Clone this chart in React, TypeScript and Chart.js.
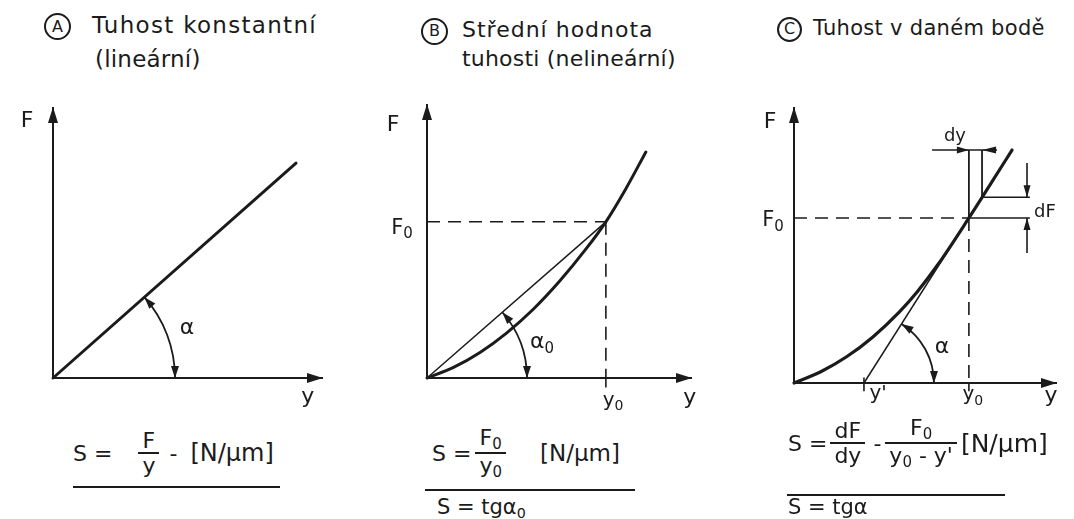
import React, { useEffect, useRef } from "react";
import { Chart, registerables } from "chart.js";

Chart.register(...registerables);

const INK = "#1b1b1b";
const FONT = '"DejaVu Sans", "Liberation Sans", sans-serif';

// ---- Panel A: constant (linear) stiffness ----
const linearY = [0, 9.0];
const linearF = [0, 7.93];

// ---- Panel B: mean stiffness (nonlinear) ----
const meanCurveY = [0, 1, 2, 3, 4, 5, 6, 6.75, 7.5, 8.26];
const meanCurveF = [0, 0.385, 0.93, 1.64, 2.5, 3.53, 4.71, 5.7, 6.9, 8.25];
const y0B = 6.75;
const F0B = 5.7;

// ---- Panel C: stiffness at a point ----
const pointCurveY = [0, 1, 2, 3, 4, 4.68, 5.5, 6.65, 7.5, 8.29];
const pointCurveF = [0, 0.4, 0.95, 1.67, 2.57, 3.3, 4.33, 5.98, 7.25, 8.44];
const y0C = 6.65;
const F0C = 5.98;
const yPrimeC = 2.66;
const dyC = 0.5;
const dFC = 0.75;
const topC = 8.44;
const dyLineY = [5.25, 7.72];
const dFLineEnd = 8.97;
const dFArrowX = 8.86;
const dFArrowEnds = [7.97, 4.71];

type P = [number, number];

const pts = (xs: number[], ys: number[]) => xs.map((v, i) => ({ x: v, y: ys[i] }));
const seg = (a: P[], width = 1.6, dash: number[] = []) => ({
  data: a.map(([x, y]) => ({ x, y })),
  showLine: true,
  borderColor: INK,
  borderWidth: width,
  borderDash: dash,
  pointRadius: 0,
  clip: false,
  borderCapStyle: "butt",
});
const curve = (xs: number[], ys: number[], width: number) => ({
  data: pts(xs, ys),
  showLine: true,
  borderColor: INK,
  borderWidth: width,
  pointRadius: 0,
  clip: false,
  cubicInterpolationMode: "monotone",
  borderCapStyle: "round",
});

function head(ctx: CanvasRenderingContext2D, x: number, y: number, ang: number, len: number, w: number) {
  const bx = x - len * Math.cos(ang);
  const by = y - len * Math.sin(ang);
  const nx = -Math.sin(ang) * w;
  const ny = Math.cos(ang) * w;
  ctx.beginPath();
  ctx.moveTo(x, y);
  ctx.lineTo(bx + nx, by + ny);
  ctx.lineTo(bx - nx, by - ny);
  ctx.closePath();
  ctx.fill();
}

const diagramPlugin = {
  id: "diagram",
  afterDatasetsDraw(chart: any, _args: any, opts: any) {
    const { ctx } = chart;
    const sx = chart.scales.x;
    const sy = chart.scales.y;
    const px = (p: P): P => [sx.getPixelForValue(p[0]), sy.getPixelForValue(p[1])];
    ctx.save();
    ctx.strokeStyle = INK;
    ctx.fillStyle = INK;
    for (const a of opts.arrows || []) {
      const [x0, y0] = px(a.from);
      const [x1, y1] = px(a.to);
      head(ctx, x1, y1, Math.atan2(y1 - y0, x1 - x0), a.len ?? 16, a.w ?? 5);
    }
    for (const arc of opts.arcs || []) {
      const [cx, cy] = px(arc.center);
      const [tx, ty] = px(arc.toward);
      const a0 = Math.atan2(ty - cy, tx - cx);
      const r = arc.r;
      ctx.lineWidth = 1.8;
      ctx.beginPath();
      ctx.arc(cx, cy, r, a0, 0, false);
      ctx.stroke();
      head(ctx, cx + r, cy, Math.PI / 2, 12, 4);
      head(ctx, cx + r * Math.cos(a0), cy + r * Math.sin(a0), Math.atan2(-Math.cos(a0), Math.sin(a0)), 12, 4);
    }
    for (const l of opts.labels || []) {
      const [lx, ly] = px(l.at);
      const size = l.size ?? 20;
      ctx.font = `${size}px ${FONT}`;
      ctx.textBaseline = "middle";
      ctx.textAlign = "left";
      const w = ctx.measureText(l.t).width;
      let ws = 0;
      const subSize = Math.round(size * 0.7);
      if (l.sub) {
        ctx.font = `${subSize}px ${FONT}`;
        ws = ctx.measureText(l.sub).width;
      }
      const startX = lx - (w + ws) / 2;
      ctx.font = `${size}px ${FONT}`;
      ctx.fillText(l.t, startX, ly);
      if (l.sub) {
        ctx.font = `${subSize}px ${FONT}`;
        ctx.fillText(l.sub, startX + w, ly + size * 0.3);
      }
    }
    ctx.restore();
  },
};

const axes = [seg([[0, 0], [10, 0]], 2), seg([[0, 0], [0, 10]], 2)];
const axisArrows = [
  { from: [0, 0], to: [10, 0] },
  { from: [0, 0], to: [0, 10] },
];

const configA = {
  datasets: [...axes, curve(linearY, linearF, 3)],
  padding: { left: 53, right: 35, top: 17, bottom: 42 },
  diagram: {
    arrows: axisArrows,
    arcs: [{ center: [0, 0], toward: [linearY[1], linearF[1]], r: 122 }],
    labels: [
      { t: "F", at: [-0.96, 9.48], size: 22 },
      { t: "y", at: [9.44, -0.7], size: 22 },
      { t: "α", at: [4.96, 1.85], size: 22 },
    ],
  },
};

const configB = {
  datasets: [
    ...axes,
    curve(meanCurveY, meanCurveF, 3),
    seg([[0, 0], [y0B, F0B]], 1.5),
    seg([[0, F0B], [y0B, F0B]], 1.6, [13, 8]),
    seg([[y0B, F0B], [y0B, 0]], 1.6, [13, 8]),
    seg([[y0B, 0], [y0B, -0.35]], 1.6),
  ],
  padding: { left: 69, right: 24, top: 14, bottom: 42 },
  diagram: {
    arrows: axisArrows,
    arcs: [{ center: [0, 0], toward: [y0B, F0B], r: 100 }],
    labels: [
      { t: "F", at: [-1.28, 9.23], size: 22 },
      { t: "F", sub: "0", at: [-0.94, 5.47], size: 21 },
      { t: "y", sub: "0", at: [7.02, -0.82], size: 20 },
      { t: "y", at: [9.92, -0.73], size: 22 },
      { t: "α", sub: "0", at: [4.34, 1.31], size: 22 },
    ],
  },
};

const configC = {
  datasets: [
    ...axes,
    curve(pointCurveY, pointCurveF, 3.2),
    seg([[yPrimeC, 0], [pointCurveY[pointCurveY.length - 1], pointCurveF[pointCurveF.length - 1]]], 1.5),
    seg([[0, F0C], [y0C, F0C]], 1.6, [13, 8]),
    seg([[y0C, F0C], [y0C, 0]], 1.6, [13, 8]),
    seg([[y0C, F0C], [y0C, topC]], 1.8),
    seg([[y0C + dyC, F0C + dFC], [y0C + dyC, topC]], 1.8),
    seg([[dyLineY[0], topC], [dyLineY[1], topC]], 1.6),
    seg([[y0C + dyC, F0C + dFC], [dFLineEnd, F0C + dFC]], 1.6),
    seg([[y0C, F0C], [dFLineEnd, F0C]], 1.6),
    seg([[dFArrowX, dFArrowEnds[0]], [dFArrowX, F0C + dFC]], 1.6),
    seg([[dFArrowX, dFArrowEnds[1]], [dFArrowX, F0C]], 1.6),
    seg([[yPrimeC, 0.2], [yPrimeC, -0.3]], 1.6),
    seg([[y0C, 0], [y0C, -0.3]], 1.6),
  ],
  padding: { left: 78, right: 17, top: 17, bottom: 37 },
  diagram: {
    arrows: [
      ...axisArrows,
      { from: [dyLineY[0], topC], to: [y0C, topC], len: 12, w: 3.5 },
      { from: [dyLineY[1], topC], to: [y0C + dyC, topC], len: 14, w: 3.5 },
      { from: [dFArrowX, dFArrowEnds[0]], to: [dFArrowX, F0C + dFC], len: 12, w: 3.5 },
      { from: [dFArrowX, dFArrowEnds[1]], to: [dFArrowX, F0C], len: 12, w: 3.5 },
    ],
    arcs: [{ center: [yPrimeC, 0], toward: [y0C, F0C], r: 70 }],
    labels: [
      { t: "F", at: [-0.91, 9.46], size: 22 },
      { t: "F", sub: "0", at: [-0.8, 5.87], size: 21 },
      { t: "dy", at: [6.12, 8.95], size: 18 },
      { t: "dF", at: [9.54, 6.2], size: 18 },
      { t: "α", at: [5.63, 1.3], size: 22 },
      { t: "y'", at: [3.2, -0.38], size: 20 },
      { t: "y", sub: "0", at: [6.8, -0.43], size: 20 },
      { t: "y", at: [9.77, -0.47], size: 22 },
    ],
  },
};

function Panel({ cfg, left }: { cfg: any; left: number }) {
  const ref = useRef<HTMLCanvasElement>(null);
  useEffect(() => {
    if (!ref.current) return;
    const chart = new Chart(ref.current, {
      type: "scatter",
      data: { datasets: cfg.datasets },
      options: {
        responsive: false,
        animation: false,
        devicePixelRatio: 1,
        events: [],
        layout: { padding: cfg.padding },
        scales: {
          x: { type: "linear", min: 0, max: 10, display: false },
          y: { type: "linear", min: 0, max: 10, display: false },
        },
        plugins: { legend: { display: false }, tooltip: { enabled: false }, diagram: cfg.diagram } as any,
      },
      plugins: [diagramPlugin as any],
    } as any);
    return () => chart.destroy();
  }, [cfg]);
  return (
    <canvas
      ref={ref}
      width={358}
      height={330}
      style={{ position: "absolute", left, top: 90, width: 358, height: 330 }}
    />
  );
}

const Sub = ({ c }: { c: string }) => (
  <span style={{ fontSize: "0.68em", position: "relative", top: "0.3em" }}>{c}</span>
);

const Circled = ({ c, d, gap }: { c: string; d: number; gap: number }) => (
  <span
    style={{
      display: "inline-flex",
      width: d,
      height: d,
      boxSizing: "border-box",
      border: `2px solid ${INK}`,
      borderRadius: "50%",
      alignItems: "center",
      justifyContent: "center",
      fontSize: 16,
      lineHeight: 1,
      letterSpacing: 0,
      marginRight: gap,
      verticalAlign: "middle",
    }}
  >
    {c}
  </span>
);

const Frac = ({ n, d, ml = 0 }: { n: React.ReactNode; d: React.ReactNode; ml?: number }) => (
  <span style={{ display: "inline-flex", flexDirection: "column", alignItems: "center", marginLeft: ml }}>
    <span style={{ lineHeight: "23px", padding: "0 4px" }}>{n}</span>
    <span style={{ height: 2, background: INK, alignSelf: "stretch" }} />
    <span style={{ lineHeight: "23px", padding: "0 4px" }}>{d}</span>
  </span>
);

const abs = (left: number, top: number, extra: any = {}) => ({
  position: "absolute" as const,
  left,
  top,
  whiteSpace: "nowrap" as const,
  ...extra,
});

const rowStyle = { display: "flex", alignItems: "center", fontSize: 22 };

export default function App() {
  useEffect(() => {
    document.body.style.margin = "0";
  }, []);
  return (
    <div
      style={{
        position: "relative",
        width: 1074,
        height: 519,
        background: "#fff",
        color: INK,
        fontFamily: FONT,
        overflow: "hidden",
      }}
    >
      {/* Titles */}
      <div style={abs(44, 8, { fontSize: 23, lineHeight: "34px" })}>
        <div>
          <Circled c="A" d={27} gap={21} />
          <span style={{ letterSpacing: 1.3 }}>Tuhost konstantní</span>
        </div>
        <div style={{ paddingLeft: 51, letterSpacing: 0.2 }}>(lineární)</div>
      </div>
      <div style={abs(421, 16, { fontSize: 22, lineHeight: "28px" })}>
        <div>
          <Circled c="B" d={27} gap={14} />
          <span style={{ letterSpacing: 1.0 }}>Střední hodnota</span>
        </div>
        <div style={{ paddingLeft: 41, letterSpacing: 0.2 }}>tuhosti (nelineární)</div>
      </div>
      <div style={abs(777, 14, { fontSize: 21, lineHeight: "28px" })}>
        <div>
          <Circled c="C" d={25} gap={11} />
          <span style={{ letterSpacing: 0.3 }}>Tuhost v daném bodě</span>
        </div>
      </div>

      {/* Charts */}
      <Panel cfg={configA} left={0} />
      <Panel cfg={configB} left={358} />
      <Panel cfg={configC} left={716} />

      {/* Formulas */}
      <div style={abs(73, 429, rowStyle)}>
        <span>S =</span>
        <Frac n="F" d="y" ml={26} />
        <span style={{ marginLeft: 10 }}>-</span>
        <span style={{ marginLeft: 13, fontSize: 24 }}>[N/μm]</span>
      </div>
      <div style={abs(73, 486, { width: 207, height: 2, background: INK })} />

      <div style={abs(432, 426, rowStyle)}>
        <span>S =</span>
        <Frac n={<>F<Sub c="0" /></>} d={<>y<Sub c="0" /></>} ml={4} />
        <span style={{ marginLeft: 34, fontSize: 23 }}>[N/μm]</span>
      </div>
      <div style={abs(425, 489, { width: 210, height: 2, background: INK })} />
      <div style={abs(437, 495, { fontSize: 21, lineHeight: "24px" })}>
        S = tgα<Sub c="0" />
      </div>

      <div style={abs(788, 416, rowStyle)}>
        <span>S =</span>
        <Frac n="dF" d="dy" ml={3} />
        <span style={{ marginLeft: 8 }}>-</span>
        <Frac n={<>F<Sub c="0" /></>} d={<>y<Sub c="0" /> - y'</>} ml={4} />
        <span style={{ marginLeft: 4, fontSize: 25 }}>[N/μm]</span>
      </div>
      <div style={abs(787, 494, { width: 218, height: 2, background: INK })} />
      <div style={abs(788, 495, { fontSize: 21, lineHeight: "24px" })}>S = tgα</div>
    </div>
  );
}
